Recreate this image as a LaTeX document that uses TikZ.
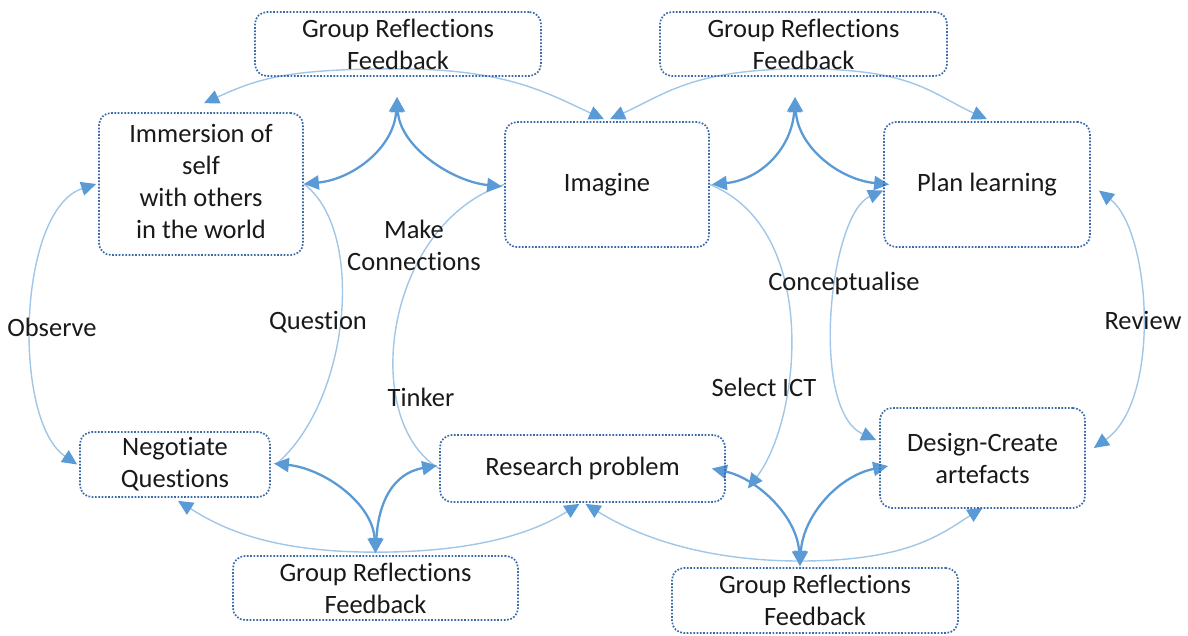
\documentclass[tikz,border=0pt]{standalone}
\usepackage{fontspec}
\setmainfont[Ligatures={NoCommon,NoRequired,NoContextual}]{Carlito}
\usetikzlibrary{arrows.meta,calc,backgrounds}
\definecolor{boxblue}{RGB}{58,106,170}
\definecolor{lightlink}{RGB}{160,198,232}
\definecolor{midlink}{RGB}{91,155,213}
\definecolor{txt}{RGB}{25,25,25}

\begin{document}
\begin{tikzpicture}[x=1pt,y=-1pt,
  every node/.style={font=\fontsize{26.5}{32}\selectfont, text=txt},
  stage/.style={draw=boxblue, line width=1.7pt, dash pattern=on 1.7pt off 1.6pt,
                rounded corners=12pt, align=center, inner sep=0pt},
  lbl/.style={align=center, inner sep=0pt},
  faint/.style={draw=lightlink, line width=1.4pt},
  bold/.style={draw=midlink, line width=2.3pt},
  >={Triangle[length=15pt,width=14pt,color=midlink]}]

\useasboundingbox (0,0) rectangle (1188,635);

% stages of the cycle
\node[stage, minimum width=286pt, minimum height=64pt] (gr1) at (398,44) {Group Reflections\\Feedback};
\node[stage, minimum width=287pt, minimum height=64pt] (gr2) at (803.5,44) {Group Reflections\\Feedback};
\node[stage, minimum width=204pt, minimum height=142pt] (imm) at (201,184) {Immersion of\\self\\with others\\in the world\rule[-6pt]{0pt}{6pt}};
\node[stage, minimum width=204pt, minimum height=125pt] (imag) at (607,184.5) {Imagine};
\node[stage, minimum width=206pt, minimum height=125pt] (plan) at (987,184.5) {Plan learning};
\node[stage, minimum width=190pt, minimum height=65pt] (neg) at (175,464.5) {Negotiate\\Questions};
\node[stage, minimum width=285pt, minimum height=67pt] (res) at (582.5,468.5) {Research problem};
\node[stage, minimum width=205pt, minimum height=100pt] (des) at (982.5,458) {Design-Create\\artefacts};
\node[stage, minimum width=285pt, minimum height=64pt] (gr3) at (375.5,588) {Group Reflections\\Feedback};
\node[stage, minimum width=286pt, minimum height=65pt] (gr4) at (815,600.5) {Group Reflections\\Feedback};

% activity labels
\node[lbl] (mk) at (414,245) {Make\\Connections};
\node[lbl] (qu) at (318,322) {Question};
\node[lbl] (ob) at (52,327) {Observe};
\node[lbl] (ti) at (421,397) {Tinker};
\node[lbl] (si) at (764,387) {Select ICT};
\node[lbl] (co) at (844,283) {Conceptualise};
\node[lbl] (re) at (1143,320) {Review};

% branching points
\coordinate (hub1) at (397,97);
\coordinate (hub2) at (795,97);
\coordinate (hub3) at ($(gr3.north)+(0,-2)$);
\coordinate (hub4) at (800,566);
\coordinate (s1) at ($(gr1.south)+(0,-8)$);
\coordinate (s2) at ($(gr2.south)+(0,-8)$);
\coordinate (s3) at ($(gr3.north)+(0,-3)$);
\coordinate (s4) at (800,561);
\coordinate (ict) at ($(res.east)+(22,20)$);

\begin{scope}[on background layer]
% feedback arcs from the reflection boxes
\draw[faint,->] (s1) .. controls +(-110,0) and +(55,-25) .. ($(imm.north)+(3,-9)$);
\draw[faint,->] (s1) .. controls +(110,0) and +(-55,-25) .. ($(imag.north)+(-3,-2)$);
\draw[faint,->] (s2) .. controls +(-110,0) and +(55,-25) .. ($(imag.north)+(3,-2)$);
\draw[faint,->] (s2) .. controls +(110,0) and +(-55,-25) .. ($(plan.north)+(0,-2)$);
\draw[faint,->] (s3) .. controls +(-110,0) and +(40,25) .. ($(neg.south)+(3,3)$);
\draw[faint,->] (s3) .. controls +(110,0) and +(-40,25) .. ($(res.south)+(-3,1)$);
\draw[faint,->] (s4) .. controls +(-110,0) and +(40,25) .. ($(res.south)+(3,1)$);
\draw[faint,->] (s4) .. controls +(110,0) and +(-40,25) .. ($(des.south)+(0,-1)$);

% long links between stages
\draw[faint,<->] ($(imm.west)+(-2,0)$) .. controls +(-79,26) and +(-65,-44) .. ($(neg.west)+(-2,0)$);
\draw[faint] (imm.east) .. controls +(62,46) and +(75,-64) .. ($(neg.east)+(5,0)$);
\draw[faint] (imag.west) .. controls +(-120,40) and +(-80,-48) .. (res.west);
\draw[faint,->] (imag.east) .. controls +(111,45) and +(53,-69) .. (ict);
\draw[faint,<->] ($(plan.west)+(0,6)$) .. controls +(-54,24) and +(-67,-30) .. ($(des.west)+(-3,-18)$);
\draw[faint,<->] ($(plan.east)+(8,6)$) .. controls +(52,40) and +(68,-48) .. ($(des.east)+(8,-10)$);

% strong two-way links
\draw[bold,<->] (hub1) .. controls +(-3,50) and +(50,-5) .. (imm.east);
\draw[bold,<->] (hub1) .. controls +(3,50) and +(-50,-5) .. ($(imag.west)+(-2,2)$);
\draw[bold,<->] (hub2) .. controls +(-3,50) and +(50,-5) .. ($(imag.east)+(2,0)$);
\draw[bold,<->] (hub2) .. controls +(3,50) and +(-50,-5) .. ($(plan.west)+(6,0)$);
\draw[bold,<->] (hub3) .. controls +(-3,-50) and +(50,5) .. ($(neg.east)+(3,-1)$);
\draw[bold,<->] (hub3) .. controls +(3,-50) and +(-45,8) .. ($(res.west)+(-2,-3)$);
\draw[bold,<->] (hub4) .. controls +(-3,-50) and +(45,10) .. ($(res.east)+(-14,0)$);
\draw[bold,<->] (hub4) .. controls +(3,-50) and +(-50,10) .. ($(des.west)+(9,8)$);
\end{scope}
\end{tikzpicture}
\end{document}
